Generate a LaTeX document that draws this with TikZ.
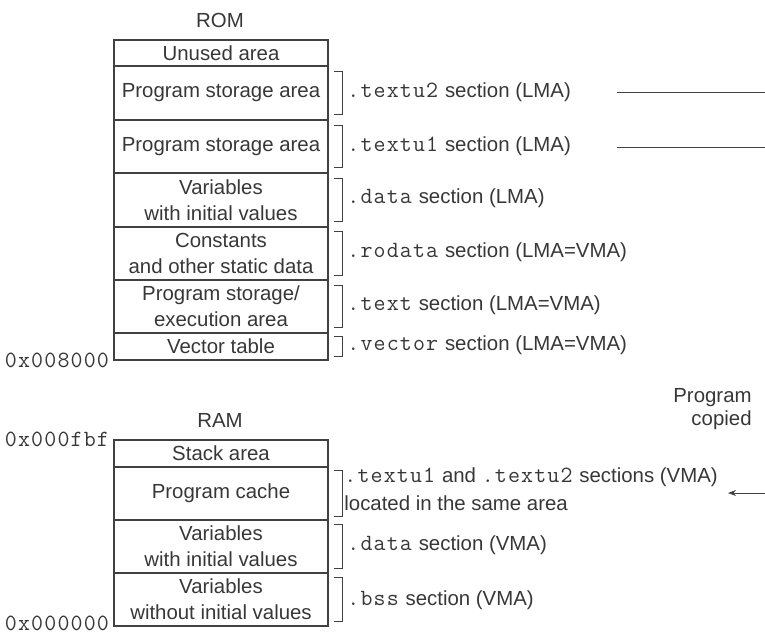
\documentclass[tikz,border=0pt]{standalone}
\usepackage{fontspec}
\setmainfont{Liberation Sans}
\setmonofont{Latin Modern Mono}[Scale=1.14,LetterSpace=5]
\usetikzlibrary{calc,arrows.meta}
\definecolor{ink}{RGB}{55,55,55}
\definecolor{rulec}{RGB}{65,65,65}
\begin{document}
\begin{tikzpicture}[x=0.5pt,y=-0.5pt,
  every node/.style={font=\fontsize{10.2}{13}\selectfont, text=ink},
  cell/.style={draw=rulec, line width=0.7pt, minimum width=107pt, inner sep=0pt, align=center},
  lbl/.style={anchor=west, inner sep=0pt, align=left},
  addr/.style={anchor=east, inner sep=0pt, font=\fontsize{10.2}{13}\selectfont\ttfamily},
  brk/.style={draw=rulec, line width=0.5pt},
  thinline/.style={draw=rulec, line width=0.5pt}]
\useasboundingbox (0,0) rectangle (765,633);

% ROM
\node[inner sep=0pt] (rom) at (220,20) {ROM};
\node[cell,minimum height=13pt]   (r1) at (221,53)    {Unused area};
\node[cell,minimum height=27pt]   (r2) at (221,93)    {Program storage area};
\node[cell,minimum height=26.5pt] (r3) at (221,146.5) {Program storage area};
\node[cell,minimum height=27pt]   (r4) at (221,200)   {Variables\\with initial values};
\node[cell,minimum height=26.5pt] (r5) at (221,253.5) {Constants\\and other static data};
\node[cell,minimum height=26.5pt] (r6) at (221,306.5) {Program storage/\\execution area};
\node[cell,minimum height=13.5pt] (r7) at (221,346.5) {Vector table};
\node[addr,xshift=-2pt] (a1) at (r7.south west) {0x008000};

% RAM
\node[inner sep=0pt] (ram) at (220,420) {RAM};
\node[cell,minimum height=13.5pt] (m1) at (221,453.5) {Stack area};
\node[cell,minimum height=26.5pt] (m2) at (221,493.5) {Program cache};
\node[cell,minimum height=26.5pt] (m3) at (221,546.5) {Variables\\with initial values};
\node[cell,minimum height=26.5pt] (m4) at (221,599.5) {Variables\\without initial values};
\node[addr,xshift=-2pt] (a2) at (m1.north west) {0x000fbf};
\node[addr,xshift=-2pt,yshift=1.5pt] (a3) at (m4.south west) {0x000000};

% brackets
\foreach \r/\i in {r2/6,r3/6,r4/6,r5/5,r6/6,r7/4,m2/4,m3/5,m4/5}
  \draw[brk] ($(\r.north east)+(5,\i)$) -- ++(9,0) -- ($(\r.south east)+(14,-\i)$) -- ++(-9,0);

% section labels
\node[lbl] (l2) at (347,92)  {\texttt{.textu2} section (LMA)};
\node[lbl] (l3) at (347,146) {\texttt{.textu1} section (LMA)};
\node[lbl] (l4) at (347,198) {\texttt{.data} section (LMA)};
\node[lbl] (l5) at (347,252) {\texttt{.rodata} section (LMA=VMA)};
\node[lbl] (l6) at (347,305) {\texttt{.text} section (LMA=VMA)};
\node[lbl] (l7) at (347,345) {\texttt{.vector} section (LMA=VMA)};
\node[lbl,font=\fontsize{10.2}{14}\selectfont] (n2) at (344,489) {\texttt{.textu1} and \texttt{.textu2} sections (VMA)\\located in the same area};
\node[lbl] (n3) at (347,545) {\texttt{.data} section (VMA)};
\node[lbl] (n4) at (347,600) {\texttt{.bss} section (VMA)};

% right side
\coordinate (p2s) at (617,92);  \coordinate (p2e) at (765,92);
\coordinate (p3s) at (617,147); \coordinate (p3e) at (765,147);
\draw[thinline] (p2s) -- (p2e);
\draw[thinline] (p3s) -- (p3e);
\node[anchor=east, align=right, inner sep=0pt, font=\fontsize{10.2}{11.5}\selectfont] (pc) at (752,409) {Program\\copied};
\coordinate (as) at (765,493); \coordinate (at) at (728,493);
\draw[thinline,-{Stealth[length=4pt,width=3pt]}] (as) -- (at);
\end{tikzpicture}
\end{document}
